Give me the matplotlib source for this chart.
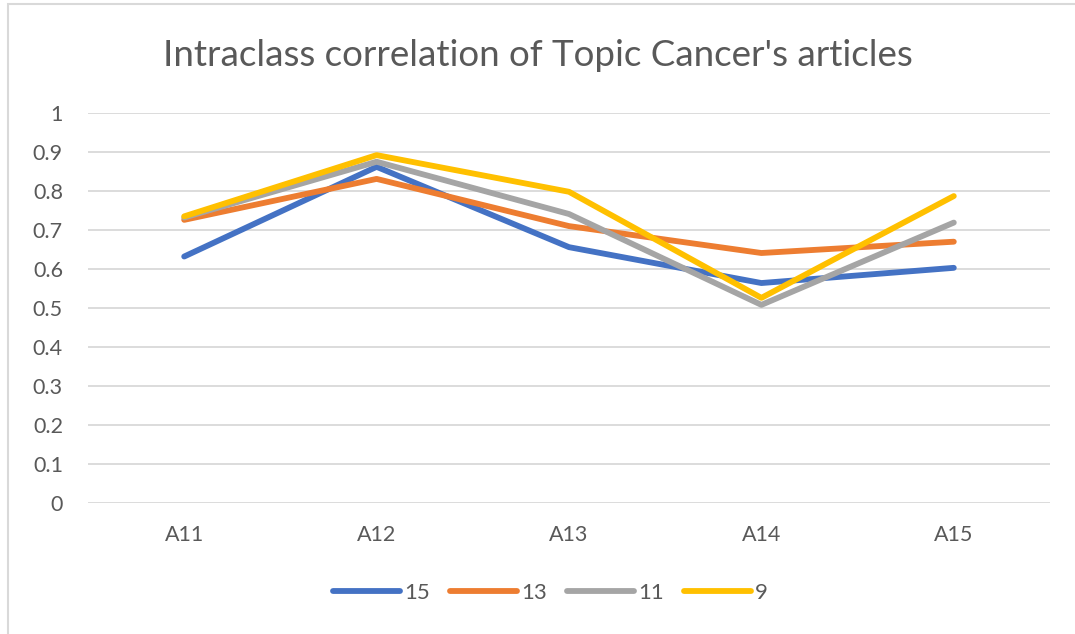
import matplotlib
matplotlib.use("Agg")
from matplotlib import pyplot as plt
from matplotlib.patches import Rectangle

# data
articles = ["A11", "A12", "A13", "A14", "A15"]
icc_15 = [0.632, 0.862, 0.656, 0.564, 0.603]
icc_13 = [0.726, 0.831, 0.710, 0.641, 0.670]
icc_11 = [0.732, 0.875, 0.741, 0.508, 0.719]
icc_9 = [0.735, 0.892, 0.798, 0.526, 0.787]
series_names = ["15", "13", "11", "9"]
colors = ["#4472C4", "#ED7D31", "#A5A5A5", "#FFC000"]

plt.rcParams["font.family"] = ["Lato", "DejaVu Sans"]
text_col = "#595959"

fig = plt.figure(figsize=(10.75, 6.34), dpi=100)
# light frame like the Excel chart area
fig.patches.append(Rectangle((8 / 1075, -0.01), 1.1, 1 - 4 / 634 + 0.01,
                             transform=fig.transFigure, fill=False,
                             edgecolor="#D9D9D9", linewidth=1.5))

ax = fig.add_axes([88 / 1075, 1 - 503 / 634, (1050 - 88) / 1075, 390 / 634])
x = range(len(articles))
for vals, name, c in zip([icc_15, icc_13, icc_11, icc_9], series_names, colors):
    ax.plot(x, vals, color=c, linewidth=4.2, label=name, solid_capstyle="round",
            solid_joinstyle="round")

ax.set_xlim(-0.5, len(articles) - 0.5)
ax.set_ylim(0, 1)
ax.set_yticks([i / 10 for i in range(11)])
ax.set_yticklabels(["0"] + ["0.%d" % i for i in range(1, 10)] + ["1"])
ax.set_xticks(list(x))
ax.set_xticklabels(articles)
ax.grid(axis="y", color="#D9D9D9", linewidth=1.3)
ax.set_axisbelow(True)
for s in ax.spines.values():
    s.set_visible(False)
ax.tick_params(length=0, labelsize=15.5, labelcolor=text_col)
ax.tick_params(axis="y", pad=18)
ax.tick_params(axis="x", pad=16)

fig.text(0.5, 1 - 55 / 634, "Intraclass correlation of Topic Cancer's articles",
         ha="center", va="center", fontsize=26.5, color=text_col)

ax.legend(loc="center", bbox_to_anchor=(0.481, (503 - 593) / 390), ncol=4,
          frameon=False, fontsize=16, labelcolor=text_col, handlelength=3.0,
          columnspacing=0.9, handletextpad=0.2)

fig.savefig("out.png", dpi=100)
